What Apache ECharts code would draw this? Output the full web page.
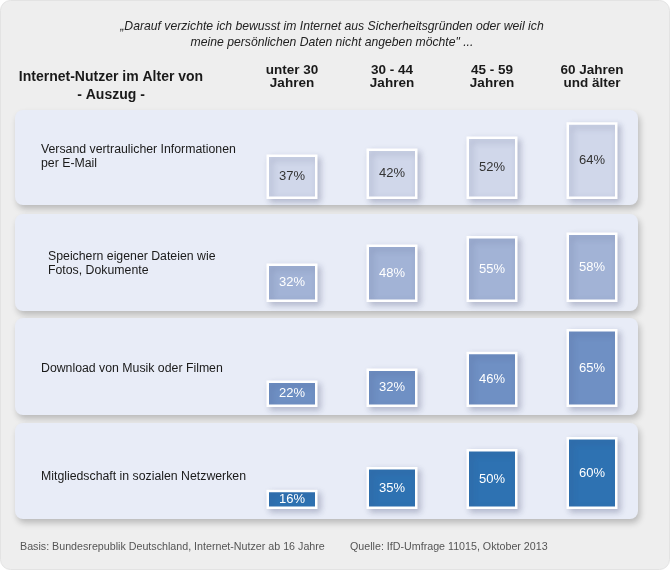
<!DOCTYPE html>
<html>
<head>
<meta charset="utf-8">
<script src="https://cdn.jsdelivr.net/npm/echarts@6/dist/echarts.min.js"></script>
<style>
html,body{margin:0;padding:0;background:#ffffff;}
#chart{width:672px;height:573px;}
</style>
</head>
<body>
<div id="chart"></div>
<script>
var ageGroups = ['unter 30\nJahren', '30 - 44\nJahren', '45 - 59\nJahren', '60 Jahren\nund älter'];
var activities = [
  'Versand vertraulicher Informationen\nper E-Mail',
  'Speichern eigener Dateien wie\nFotos, Dokumente',
  'Download von Musik oder Filmen',
  'Mitgliedschaft in sozialen Netzwerken'
];
var valuesEmail = [37, 42, 52, 64];
var valuesFiles = [32, 48, 55, 58];
var valuesMusic = [22, 32, 46, 65];
var valuesSocial = [16, 35, 50, 60];
var rowValues = [valuesEmail, valuesFiles, valuesMusic, valuesSocial];

var titleText = '„Darauf verzichte ich bewusst im Internet aus Sicherheitsgründen oder weil ich\nmeine persönlichen Daten nicht angeben möchte" ...';
var headerText = 'Internet-Nutzer im Alter von\n- Auszug -';
var basisText = 'Basis: Bundesrepublik Deutschland, Internet-Nutzer ab 16 Jahre';
var sourceText = 'Quelle: IfD-Umfrage 11015, Oktober 2013';

var rowColors = ['#D0D7EA', '#A2B3D6', '#6F90C4', '#2E72B2'];
var labelColors = ['#333333', '#ffffff', '#ffffff', '#ffffff'];
var baselines = [199, 302, 407, 509];
var panels = [[110, 205], [214, 311], [318, 415], [423, 519]];
var textY = [143, 250, 362, 470];
var textX = [41, 48, 41, 41];
var FONT = '"Liberation Sans", Arial, sans-serif';

var grids = [], xAxes = [], yAxes = [], series = [], graphics = [];

graphics.push({type:'rect', z:-10, shape:{x:0.5, y:0.5, width:669, height:569, r:10},
  style:{fill:'#EEEEEE', stroke:'#E3E3E3', lineWidth:1}});

for (var i = 0; i < 4; i++) {
  grids.push({left: 242, width: 400, top: baselines[i] - 96, height: 96});
  xAxes.push({
    type: 'category', gridIndex: i, data: ageGroups,
    position: i === 0 ? 'top' : 'bottom',
    axisLine: {show: false}, axisTick: {show: false}, splitLine: {show: false},
    axisLabel: i === 0 ? {show: true, margin: 13, color: '#1a1a1a', fontWeight: 'bold',
      fontSize: 13.5, lineHeight: 13, fontFamily: FONT} : {show: false}
  });
  yAxes.push({type: 'value', gridIndex: i, min: 0, max: 80, show: false, splitLine: {show: false}});
  series.push({
    type: 'bar', xAxisIndex: i, yAxisIndex: i, data: rowValues[i], barWidth: 51,
    itemStyle: {color: rowColors[i], borderColor: '#ffffff', borderWidth: 2.5,
      shadowColor: 'rgba(60,70,110,0.28)', shadowBlur: 6, shadowOffsetX: 3, shadowOffsetY: 3},
    label: {show: true, position: 'inside', formatter: '{c}%', color: labelColors[i],
      fontSize: 13, fontFamily: FONT},
    silent: true, animation: false
  });
  graphics.push({type:'rect', z:-5, shape:{x:15, y:panels[i][0], width:623, height:panels[i][1]-panels[i][0], r:8},
    style:{fill:'#E8ECF7', shadowColor:'rgba(0,0,0,0.22)', shadowBlur:6, shadowOffsetX:2, shadowOffsetY:4}});
  graphics.push({type:'text', z:5, x: textX[i], y: textY[i],
    style:{text: activities[i], fill:'#1a1a1a', font: '12.3px ' + FONT, lineHeight: 14}});
}

graphics.push({type:'text', z:5, x: 332, y: 19,
  style:{text: titleText, fill:'#222222', font:'italic 12.2px ' + FONT, lineHeight: 16, align:'center'}});
graphics.push({type:'text', z:5, x: 111, y: 68,
  style:{text: headerText, fill:'#1a1a1a', font:'bold 14px ' + FONT, lineHeight: 18, align:'center'}});
graphics.push({type:'text', z:5, x: 20, y: 542,
  style:{text: basisText, fill:'#555555', font:'10.7px ' + FONT}});
graphics.push({type:'text', z:5, x: 350, y: 542,
  style:{text: sourceText, fill:'#555555', font:'10.7px ' + FONT}});

var chart = echarts.init(document.getElementById('chart'), null, {renderer: 'canvas'});
chart.setOption({
  animation: false,
  backgroundColor: '#ffffff',
  grid: grids, xAxis: xAxes, yAxis: yAxes, series: series, graphic: graphics
});
</script>
</body>
</html>
